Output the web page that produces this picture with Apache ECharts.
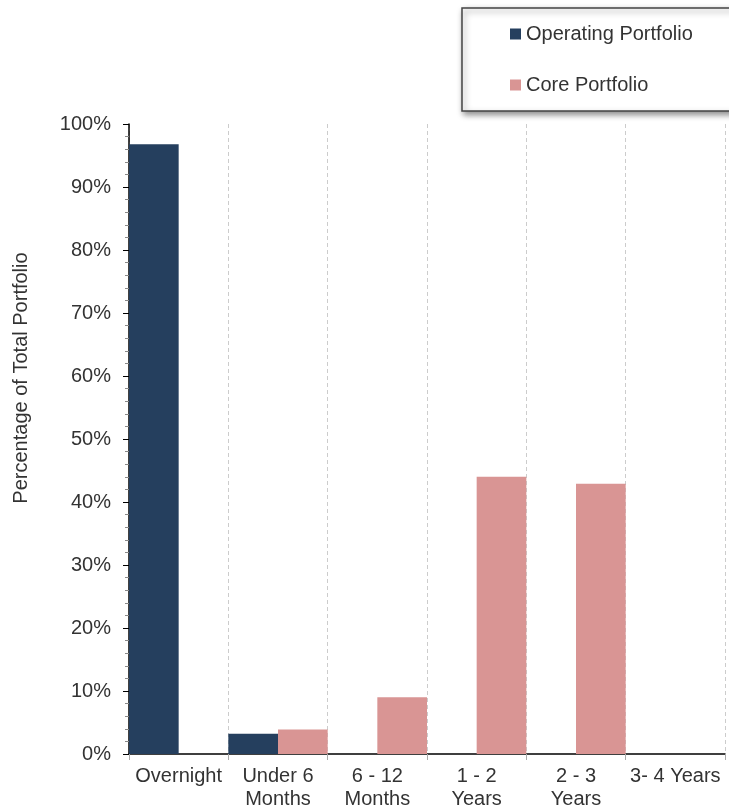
<!DOCTYPE html>
<html>
<head>
<meta charset="utf-8">
<script src="https://cdn.jsdelivr.net/npm/echarts@6/dist/echarts.min.js"></script>
<style>
html,body{margin:0;padding:0;background:#fff;}
#chart{width:729px;height:812px;}
</style>
</head>
<body>
<div id="chart"></div>
<script>
const categories = ["Overnight", "Under 6\nMonths", "6 - 12\nMonths", "1 - 2\nYears", "2 - 3\nYears", "3- 4 Years"];
const operatingPortfolio = [96.8, 3.2, 0, 0, 0, 0];
const corePortfolio = [0, 3.9, 9.0, 44.0, 42.9, 0];
const yTicks = [0, 10, 20, 30, 40, 50, 60, 70, 80, 90, 100];

const FONT = "Liberation Sans, Arial, Helvetica, sans-serif";
const chart = echarts.init(document.getElementById('chart'), null, {renderer: 'canvas'});
chart.setOption({
  animation: false,
  textStyle: {fontFamily: FONT},
  grid: {left: 129, right: 4, top: 124, bottom: 58, containLabel: false},
  legend: {
    orient: 'vertical',
    left: 462, top: 8,
    padding: [16, 70, 16, 48],
    itemWidth: 11, itemHeight: 11, itemGap: 31,
    icon: 'rect',
    backgroundColor: '#fff',
    borderColor: '#444', borderWidth: 1.5,
    shadowBlur: 6, shadowOffsetX: 2, shadowOffsetY: 3, shadowColor: 'rgba(0,0,0,0.45)',
    textStyle: {fontFamily: FONT, fontSize: 20, color: '#333', padding: [0, 0, 0, 0]},
    data: ['Operating Portfolio', 'Core Portfolio']
  },
  graphic: [{
    type: 'text',
    x: 21, y: 378,
    rotation: Math.PI / 2,
    style: {text: 'Percentage of Total Portfolio', fontFamily: FONT, fontSize: 20, fill: '#333',
      align: 'center', verticalAlign: 'middle'}
  }],
  xAxis: {
    type: 'category',
    data: categories,
    boundaryGap: true,
    axisLine: {lineStyle: {color: '#000', width: 1.5}},
    axisTick: {show: true, alignWithLabel: false, length: 6, lineStyle: {color: '#aaa'}},
    axisLabel: {fontFamily: FONT, fontSize: 20, color: '#333', lineHeight: 23, margin: 11, interval: 0},
    splitLine: {show: true, lineStyle: {color: '#ccc', type: [4, 3], width: 1}}
  },
  yAxis: {
    type: 'value',
    min: 0, max: 100, interval: 10,
    axisLine: {show: true, lineStyle: {color: '#000', width: 1.5}},
    axisTick: {show: true, length: 6, lineStyle: {color: '#000'}},
    minorTick: {show: true, splitNumber: 5, length: 4, lineStyle: {color: '#888'}},
    axisLabel: {fontFamily: FONT, fontSize: 20, color: '#333', margin: 18,
      formatter: v => yTicks.indexOf(v) >= 0 ? v + '%' : ''},
    splitLine: {show: false}
  },
  series: [
    {name: 'Operating Portfolio', type: 'bar', data: operatingPortfolio,
     itemStyle: {color: '#253F5E'}, barGap: '0%', barCategoryGap: '0%'},
    {name: 'Core Portfolio', type: 'bar', data: corePortfolio,
     itemStyle: {color: '#D99594'}, barGap: '0%', barCategoryGap: '0%'}
  ]
});
</script>
</body>
</html>
